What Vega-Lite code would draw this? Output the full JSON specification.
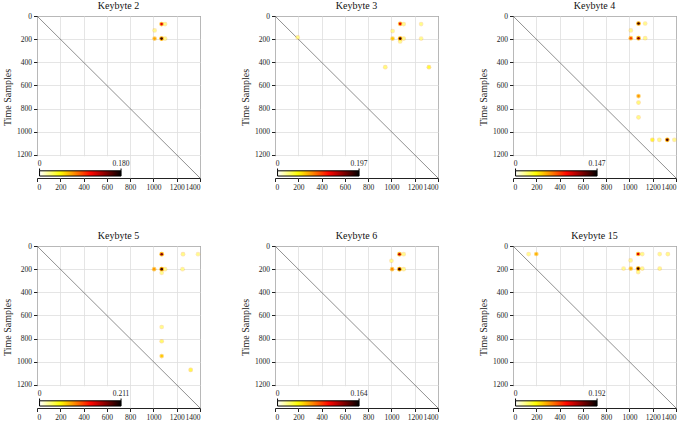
{
  "$schema": "https://vega.github.io/schema/vega-lite/v6.json",
  "padding": {"left": 2, "top": 0, "right": 2, "bottom": 2},
  "background": "white",
  "config": {
    "font": "Liberation Serif",
    "view": {"stroke": "#222", "strokeWidth": 1},
    "title": {"font": "Liberation Serif", "fontSize": 10, "fontWeight": "normal", "color": "#111", "offset": 1},
    "axis": {"labelFont": "Liberation Serif", "labelFontSize": 7.5, "labelColor": "#222", "tickColor": "#222", "tickSize": 3.5, "domain": false, "gridColor": "#dedede", "gridWidth": 0.8, "labelPadding": 2, "labelOverlap": false, "format": "d", "titleFont": "Liberation Serif", "titleFontSize": 10, "titleFontWeight": "normal", "titleColor": "#222"},
    "text": {"font": "Liberation Serif", "fontSize": 7.5, "color": "#222", "align": "center", "baseline": "alphabetic"}
  },
  "datasets": {
    "diag": [{"x": 0, "y": 0, "x2": 1400, "y2": 1400}],
    "box": [{"x": 0, "x2": 775, "y": 1212, "y2": 1400}],
    "bar": [{"x": 22, "x2": 722, "y": 1338, "y2": 1383}],
    "ticks": [{"x": 22, "y": 1318, "y2": 1338}, {"x": 722, "y": 1318, "y2": 1338}],
    "l2": [{"x": 22, "y": 1292, "t": "0"}, {"x": 722, "y": 1292, "t": "0.180"}],
    "l3": [{"x": 22, "y": 1292, "t": "0"}, {"x": 722, "y": 1292, "t": "0.197"}],
    "l4": [{"x": 22, "y": 1292, "t": "0"}, {"x": 722, "y": 1292, "t": "0.147"}],
    "l5": [{"x": 22, "y": 1292, "t": "0"}, {"x": 722, "y": 1292, "t": "0.211"}],
    "l6": [{"x": 22, "y": 1292, "t": "0"}, {"x": 722, "y": 1292, "t": "0.164"}],
    "l15": [{"x": 22, "y": 1292, "t": "0"}, {"x": 722, "y": 1292, "t": "0.192"}],
    "k2": [
      {"x": 1070, "y": 70, "v": 0.12}, {"x": 1070, "y": 195, "v": 0.175}, {"x": 1010, "y": 195, "v": 0.07},
      {"x": 1010, "y": 125, "v": 0.012}, {"x": 1100, "y": 70, "v": 0.015}, {"x": 1100, "y": 195, "v": 0.015}
    ],
    "k3": [
      {"x": 1075, "y": 68, "v": 0.13}, {"x": 1075, "y": 195, "v": 0.19}, {"x": 1010, "y": 195, "v": 0.065},
      {"x": 1010, "y": 130, "v": 0.012}, {"x": 1105, "y": 70, "v": 0.018}, {"x": 1105, "y": 195, "v": 0.02},
      {"x": 1075, "y": 220, "v": 0.018}, {"x": 1255, "y": 70, "v": 0.012}, {"x": 1255, "y": 195, "v": 0.008},
      {"x": 947, "y": 442, "v": 0.028}, {"x": 1322, "y": 442, "v": 0.045}, {"x": 195, "y": 185, "v": 0.02}
    ],
    "k4": [
      {"x": 1078, "y": 65, "v": 0.14}, {"x": 1078, "y": 192, "v": 0.12}, {"x": 1012, "y": 192, "v": 0.08},
      {"x": 1012, "y": 125, "v": 0.01}, {"x": 1135, "y": 65, "v": 0.012}, {"x": 1135, "y": 192, "v": 0.012},
      {"x": 1078, "y": 692, "v": 0.06}, {"x": 1078, "y": 748, "v": 0.022}, {"x": 1078, "y": 876, "v": 0.018},
      {"x": 1197, "y": 1070, "v": 0.035}, {"x": 1257, "y": 1070, "v": 0.018}, {"x": 1325, "y": 1070, "v": 0.13},
      {"x": 1386, "y": 1070, "v": 0.01}
    ],
    "k5": [
      {"x": 1071, "y": 71, "v": 0.17}, {"x": 1071, "y": 200, "v": 0.2}, {"x": 1006, "y": 200, "v": 0.085},
      {"x": 1254, "y": 71, "v": 0.025}, {"x": 1250, "y": 200, "v": 0.01}, {"x": 1100, "y": 200, "v": 0.015},
      {"x": 1071, "y": 232, "v": 0.012}, {"x": 1383, "y": 71, "v": 0.008}, {"x": 1071, "y": 700, "v": 0.018},
      {"x": 1071, "y": 823, "v": 0.035}, {"x": 1071, "y": 951, "v": 0.07}, {"x": 1320, "y": 1071, "v": 0.045}
    ],
    "k6": [
      {"x": 1069, "y": 71, "v": 0.12}, {"x": 1069, "y": 200, "v": 0.16}, {"x": 1006, "y": 200, "v": 0.07},
      {"x": 1000, "y": 128, "v": 0.01}, {"x": 1105, "y": 200, "v": 0.015}, {"x": 1105, "y": 71, "v": 0.012}
    ],
    "k15": [
      {"x": 200, "y": 69, "v": 0.07}, {"x": 134, "y": 70, "v": 0.01}, {"x": 1075, "y": 69, "v": 0.13},
      {"x": 1075, "y": 195, "v": 0.185}, {"x": 1012, "y": 195, "v": 0.07}, {"x": 1010, "y": 125, "v": 0.012},
      {"x": 1110, "y": 70, "v": 0.015}, {"x": 1110, "y": 195, "v": 0.018}, {"x": 1075, "y": 225, "v": 0.015},
      {"x": 1260, "y": 70, "v": 0.01}, {"x": 1330, "y": 70, "v": 0.02}, {"x": 1260, "y": 195, "v": 0.02},
      {"x": 950, "y": 195, "v": 0.01}
    ]
  },
  "columns": 3,
  "bounds": "flush",
  "spacing": {"row": 68, "column": 75},
  "resolve": {"scale": {"color": "independent", "opacity": "independent", "x": "independent", "y": "independent"}, "axis": {"x": "independent", "y": "independent"}},
  "concat": [
    {
      "title": "Keybyte 2", "width": 163, "height": 162,
      "encoding": {
        "x": {"field": "x", "type": "quantitative", "scale": {"domain": [0, 1400], "nice": false}, "axis": {"values": [0, 200, 400, 600, 800, 1000, 1200, 1400], "title": null}},
        "y": {"field": "y", "type": "quantitative", "scale": {"domain": [0, 1400], "nice": false, "reverse": true}, "axis": {"values": [0, 200, 400, 600, 800, 1000, 1200], "title": "Time Samples"}}
      },
      "layer": [
        {"data": {"name": "diag"}, "mark": {"type": "rule", "color": "#444", "strokeWidth": 0.6}, "encoding": {"x2": {"field": "x2"}, "y2": {"field": "y2"}}},
        {"data": {"name": "k2"}, "mark": {"type": "circle", "color": "#ffb000", "size": 22},
         "encoding": {"opacity": {"field": "v", "type": "quantitative", "scale": {"domain": [0, 0.18], "range": [0.25, 1]}, "legend": null}}},
        {"data": {"name": "k2"}, "mark": {"type": "circle", "size": 7, "opacity": 1},
         "encoding": {"color": {"field": "v", "type": "quantitative", "scale": {"domain": [0, 0.18], "range": ["#ffffff", "#ffff82", "#ffff04", "#ffae00", "#ff5a00", "#ff0700", "#af0000", "#570000", "#000000"]}, "legend": null}}},
        {"data": {"name": "box"}, "mark": {"type": "rect", "color": "white"}, "encoding": {"x2": {"field": "x2"}, "y2": {"field": "y2"}}},
        {"data": {"name": "bar"}, "mark": {"type": "rect", "stroke": "black", "strokeWidth": 1, "color": {"gradient": "linear", "x1": 0, "y1": 0, "x2": 1, "y2": 0, "stops": [{"offset": 0, "color": "#ffffff"}, {"offset": 0.125, "color": "#ffff82"}, {"offset": 0.25, "color": "#ffff04"}, {"offset": 0.375, "color": "#ffae00"}, {"offset": 0.5, "color": "#ff5a00"}, {"offset": 0.625, "color": "#ff0700"}, {"offset": 0.75, "color": "#af0000"}, {"offset": 0.875, "color": "#570000"}, {"offset": 1, "color": "#000000"}]}},
         "encoding": {"x2": {"field": "x2"}, "y2": {"field": "y2"}}},
        {"data": {"name": "ticks"}, "mark": {"type": "rule", "color": "black", "strokeWidth": 1}, "encoding": {"y2": {"field": "y2"}}},
        {"data": {"name": "l2"}, "mark": {"type": "text"}, "encoding": {"text": {"field": "t"}}}
      ]
    },
    {
      "title": "Keybyte 3", "width": 163, "height": 162,
      "encoding": {
        "x": {"field": "x", "type": "quantitative", "scale": {"domain": [0, 1400], "nice": false}, "axis": {"values": [0, 200, 400, 600, 800, 1000, 1200, 1400], "title": null}},
        "y": {"field": "y", "type": "quantitative", "scale": {"domain": [0, 1400], "nice": false, "reverse": true}, "axis": {"values": [0, 200, 400, 600, 800, 1000, 1200], "title": "Time Samples"}}
      },
      "layer": [
        {"data": {"name": "diag"}, "mark": {"type": "rule", "color": "#444", "strokeWidth": 0.6}, "encoding": {"x2": {"field": "x2"}, "y2": {"field": "y2"}}},
        {"data": {"name": "k3"}, "mark": {"type": "circle", "color": "#ffb000", "size": 22},
         "encoding": {"opacity": {"field": "v", "type": "quantitative", "scale": {"domain": [0, 0.197], "range": [0.25, 1]}, "legend": null}}},
        {"data": {"name": "k3"}, "mark": {"type": "circle", "size": 7, "opacity": 1},
         "encoding": {"color": {"field": "v", "type": "quantitative", "scale": {"domain": [0, 0.197], "range": ["#ffffff", "#ffff82", "#ffff04", "#ffae00", "#ff5a00", "#ff0700", "#af0000", "#570000", "#000000"]}, "legend": null}}},
        {"data": {"name": "box"}, "mark": {"type": "rect", "color": "white"}, "encoding": {"x2": {"field": "x2"}, "y2": {"field": "y2"}}},
        {"data": {"name": "bar"}, "mark": {"type": "rect", "stroke": "black", "strokeWidth": 1, "color": {"gradient": "linear", "x1": 0, "y1": 0, "x2": 1, "y2": 0, "stops": [{"offset": 0, "color": "#ffffff"}, {"offset": 0.125, "color": "#ffff82"}, {"offset": 0.25, "color": "#ffff04"}, {"offset": 0.375, "color": "#ffae00"}, {"offset": 0.5, "color": "#ff5a00"}, {"offset": 0.625, "color": "#ff0700"}, {"offset": 0.75, "color": "#af0000"}, {"offset": 0.875, "color": "#570000"}, {"offset": 1, "color": "#000000"}]}},
         "encoding": {"x2": {"field": "x2"}, "y2": {"field": "y2"}}},
        {"data": {"name": "ticks"}, "mark": {"type": "rule", "color": "black", "strokeWidth": 1}, "encoding": {"y2": {"field": "y2"}}},
        {"data": {"name": "l3"}, "mark": {"type": "text"}, "encoding": {"text": {"field": "t"}}}
      ]
    },
    {
      "title": "Keybyte 4", "width": 163, "height": 162,
      "encoding": {
        "x": {"field": "x", "type": "quantitative", "scale": {"domain": [0, 1400], "nice": false}, "axis": {"values": [0, 200, 400, 600, 800, 1000, 1200, 1400], "title": null}},
        "y": {"field": "y", "type": "quantitative", "scale": {"domain": [0, 1400], "nice": false, "reverse": true}, "axis": {"values": [0, 200, 400, 600, 800, 1000, 1200], "title": "Time Samples"}}
      },
      "layer": [
        {"data": {"name": "diag"}, "mark": {"type": "rule", "color": "#444", "strokeWidth": 0.6}, "encoding": {"x2": {"field": "x2"}, "y2": {"field": "y2"}}},
        {"data": {"name": "k4"}, "mark": {"type": "circle", "color": "#ffb000", "size": 22},
         "encoding": {"opacity": {"field": "v", "type": "quantitative", "scale": {"domain": [0, 0.147], "range": [0.25, 1]}, "legend": null}}},
        {"data": {"name": "k4"}, "mark": {"type": "circle", "size": 7, "opacity": 1},
         "encoding": {"color": {"field": "v", "type": "quantitative", "scale": {"domain": [0, 0.147], "range": ["#ffffff", "#ffff82", "#ffff04", "#ffae00", "#ff5a00", "#ff0700", "#af0000", "#570000", "#000000"]}, "legend": null}}},
        {"data": {"name": "box"}, "mark": {"type": "rect", "color": "white"}, "encoding": {"x2": {"field": "x2"}, "y2": {"field": "y2"}}},
        {"data": {"name": "bar"}, "mark": {"type": "rect", "stroke": "black", "strokeWidth": 1, "color": {"gradient": "linear", "x1": 0, "y1": 0, "x2": 1, "y2": 0, "stops": [{"offset": 0, "color": "#ffffff"}, {"offset": 0.125, "color": "#ffff82"}, {"offset": 0.25, "color": "#ffff04"}, {"offset": 0.375, "color": "#ffae00"}, {"offset": 0.5, "color": "#ff5a00"}, {"offset": 0.625, "color": "#ff0700"}, {"offset": 0.75, "color": "#af0000"}, {"offset": 0.875, "color": "#570000"}, {"offset": 1, "color": "#000000"}]}},
         "encoding": {"x2": {"field": "x2"}, "y2": {"field": "y2"}}},
        {"data": {"name": "ticks"}, "mark": {"type": "rule", "color": "black", "strokeWidth": 1}, "encoding": {"y2": {"field": "y2"}}},
        {"data": {"name": "l4"}, "mark": {"type": "text"}, "encoding": {"text": {"field": "t"}}}
      ]
    },
    {
      "title": "Keybyte 5", "width": 163, "height": 162,
      "encoding": {
        "x": {"field": "x", "type": "quantitative", "scale": {"domain": [0, 1400], "nice": false}, "axis": {"values": [0, 200, 400, 600, 800, 1000, 1200, 1400], "title": null}},
        "y": {"field": "y", "type": "quantitative", "scale": {"domain": [0, 1400], "nice": false, "reverse": true}, "axis": {"values": [0, 200, 400, 600, 800, 1000, 1200], "title": "Time Samples"}}
      },
      "layer": [
        {"data": {"name": "diag"}, "mark": {"type": "rule", "color": "#444", "strokeWidth": 0.6}, "encoding": {"x2": {"field": "x2"}, "y2": {"field": "y2"}}},
        {"data": {"name": "k5"}, "mark": {"type": "circle", "color": "#ffb000", "size": 22},
         "encoding": {"opacity": {"field": "v", "type": "quantitative", "scale": {"domain": [0, 0.211], "range": [0.25, 1]}, "legend": null}}},
        {"data": {"name": "k5"}, "mark": {"type": "circle", "size": 7, "opacity": 1},
         "encoding": {"color": {"field": "v", "type": "quantitative", "scale": {"domain": [0, 0.211], "range": ["#ffffff", "#ffff82", "#ffff04", "#ffae00", "#ff5a00", "#ff0700", "#af0000", "#570000", "#000000"]}, "legend": null}}},
        {"data": {"name": "box"}, "mark": {"type": "rect", "color": "white"}, "encoding": {"x2": {"field": "x2"}, "y2": {"field": "y2"}}},
        {"data": {"name": "bar"}, "mark": {"type": "rect", "stroke": "black", "strokeWidth": 1, "color": {"gradient": "linear", "x1": 0, "y1": 0, "x2": 1, "y2": 0, "stops": [{"offset": 0, "color": "#ffffff"}, {"offset": 0.125, "color": "#ffff82"}, {"offset": 0.25, "color": "#ffff04"}, {"offset": 0.375, "color": "#ffae00"}, {"offset": 0.5, "color": "#ff5a00"}, {"offset": 0.625, "color": "#ff0700"}, {"offset": 0.75, "color": "#af0000"}, {"offset": 0.875, "color": "#570000"}, {"offset": 1, "color": "#000000"}]}},
         "encoding": {"x2": {"field": "x2"}, "y2": {"field": "y2"}}},
        {"data": {"name": "ticks"}, "mark": {"type": "rule", "color": "black", "strokeWidth": 1}, "encoding": {"y2": {"field": "y2"}}},
        {"data": {"name": "l5"}, "mark": {"type": "text"}, "encoding": {"text": {"field": "t"}}}
      ]
    },
    {
      "title": "Keybyte 6", "width": 163, "height": 162,
      "encoding": {
        "x": {"field": "x", "type": "quantitative", "scale": {"domain": [0, 1400], "nice": false}, "axis": {"values": [0, 200, 400, 600, 800, 1000, 1200, 1400], "title": null}},
        "y": {"field": "y", "type": "quantitative", "scale": {"domain": [0, 1400], "nice": false, "reverse": true}, "axis": {"values": [0, 200, 400, 600, 800, 1000, 1200], "title": "Time Samples"}}
      },
      "layer": [
        {"data": {"name": "diag"}, "mark": {"type": "rule", "color": "#444", "strokeWidth": 0.6}, "encoding": {"x2": {"field": "x2"}, "y2": {"field": "y2"}}},
        {"data": {"name": "k6"}, "mark": {"type": "circle", "color": "#ffb000", "size": 22},
         "encoding": {"opacity": {"field": "v", "type": "quantitative", "scale": {"domain": [0, 0.164], "range": [0.25, 1]}, "legend": null}}},
        {"data": {"name": "k6"}, "mark": {"type": "circle", "size": 7, "opacity": 1},
         "encoding": {"color": {"field": "v", "type": "quantitative", "scale": {"domain": [0, 0.164], "range": ["#ffffff", "#ffff82", "#ffff04", "#ffae00", "#ff5a00", "#ff0700", "#af0000", "#570000", "#000000"]}, "legend": null}}},
        {"data": {"name": "box"}, "mark": {"type": "rect", "color": "white"}, "encoding": {"x2": {"field": "x2"}, "y2": {"field": "y2"}}},
        {"data": {"name": "bar"}, "mark": {"type": "rect", "stroke": "black", "strokeWidth": 1, "color": {"gradient": "linear", "x1": 0, "y1": 0, "x2": 1, "y2": 0, "stops": [{"offset": 0, "color": "#ffffff"}, {"offset": 0.125, "color": "#ffff82"}, {"offset": 0.25, "color": "#ffff04"}, {"offset": 0.375, "color": "#ffae00"}, {"offset": 0.5, "color": "#ff5a00"}, {"offset": 0.625, "color": "#ff0700"}, {"offset": 0.75, "color": "#af0000"}, {"offset": 0.875, "color": "#570000"}, {"offset": 1, "color": "#000000"}]}},
         "encoding": {"x2": {"field": "x2"}, "y2": {"field": "y2"}}},
        {"data": {"name": "ticks"}, "mark": {"type": "rule", "color": "black", "strokeWidth": 1}, "encoding": {"y2": {"field": "y2"}}},
        {"data": {"name": "l6"}, "mark": {"type": "text"}, "encoding": {"text": {"field": "t"}}}
      ]
    },
    {
      "title": "Keybyte 15", "width": 163, "height": 162,
      "encoding": {
        "x": {"field": "x", "type": "quantitative", "scale": {"domain": [0, 1400], "nice": false}, "axis": {"values": [0, 200, 400, 600, 800, 1000, 1200, 1400], "title": null}},
        "y": {"field": "y", "type": "quantitative", "scale": {"domain": [0, 1400], "nice": false, "reverse": true}, "axis": {"values": [0, 200, 400, 600, 800, 1000, 1200], "title": "Time Samples"}}
      },
      "layer": [
        {"data": {"name": "diag"}, "mark": {"type": "rule", "color": "#444", "strokeWidth": 0.6}, "encoding": {"x2": {"field": "x2"}, "y2": {"field": "y2"}}},
        {"data": {"name": "k15"}, "mark": {"type": "circle", "color": "#ffb000", "size": 22},
         "encoding": {"opacity": {"field": "v", "type": "quantitative", "scale": {"domain": [0, 0.192], "range": [0.25, 1]}, "legend": null}}},
        {"data": {"name": "k15"}, "mark": {"type": "circle", "size": 7, "opacity": 1},
         "encoding": {"color": {"field": "v", "type": "quantitative", "scale": {"domain": [0, 0.192], "range": ["#ffffff", "#ffff82", "#ffff04", "#ffae00", "#ff5a00", "#ff0700", "#af0000", "#570000", "#000000"]}, "legend": null}}},
        {"data": {"name": "box"}, "mark": {"type": "rect", "color": "white"}, "encoding": {"x2": {"field": "x2"}, "y2": {"field": "y2"}}},
        {"data": {"name": "bar"}, "mark": {"type": "rect", "stroke": "black", "strokeWidth": 1, "color": {"gradient": "linear", "x1": 0, "y1": 0, "x2": 1, "y2": 0, "stops": [{"offset": 0, "color": "#ffffff"}, {"offset": 0.125, "color": "#ffff82"}, {"offset": 0.25, "color": "#ffff04"}, {"offset": 0.375, "color": "#ffae00"}, {"offset": 0.5, "color": "#ff5a00"}, {"offset": 0.625, "color": "#ff0700"}, {"offset": 0.75, "color": "#af0000"}, {"offset": 0.875, "color": "#570000"}, {"offset": 1, "color": "#000000"}]}},
         "encoding": {"x2": {"field": "x2"}, "y2": {"field": "y2"}}},
        {"data": {"name": "ticks"}, "mark": {"type": "rule", "color": "black", "strokeWidth": 1}, "encoding": {"y2": {"field": "y2"}}},
        {"data": {"name": "l15"}, "mark": {"type": "text"}, "encoding": {"text": {"field": "t"}}}
      ]
    }
  ]
}
